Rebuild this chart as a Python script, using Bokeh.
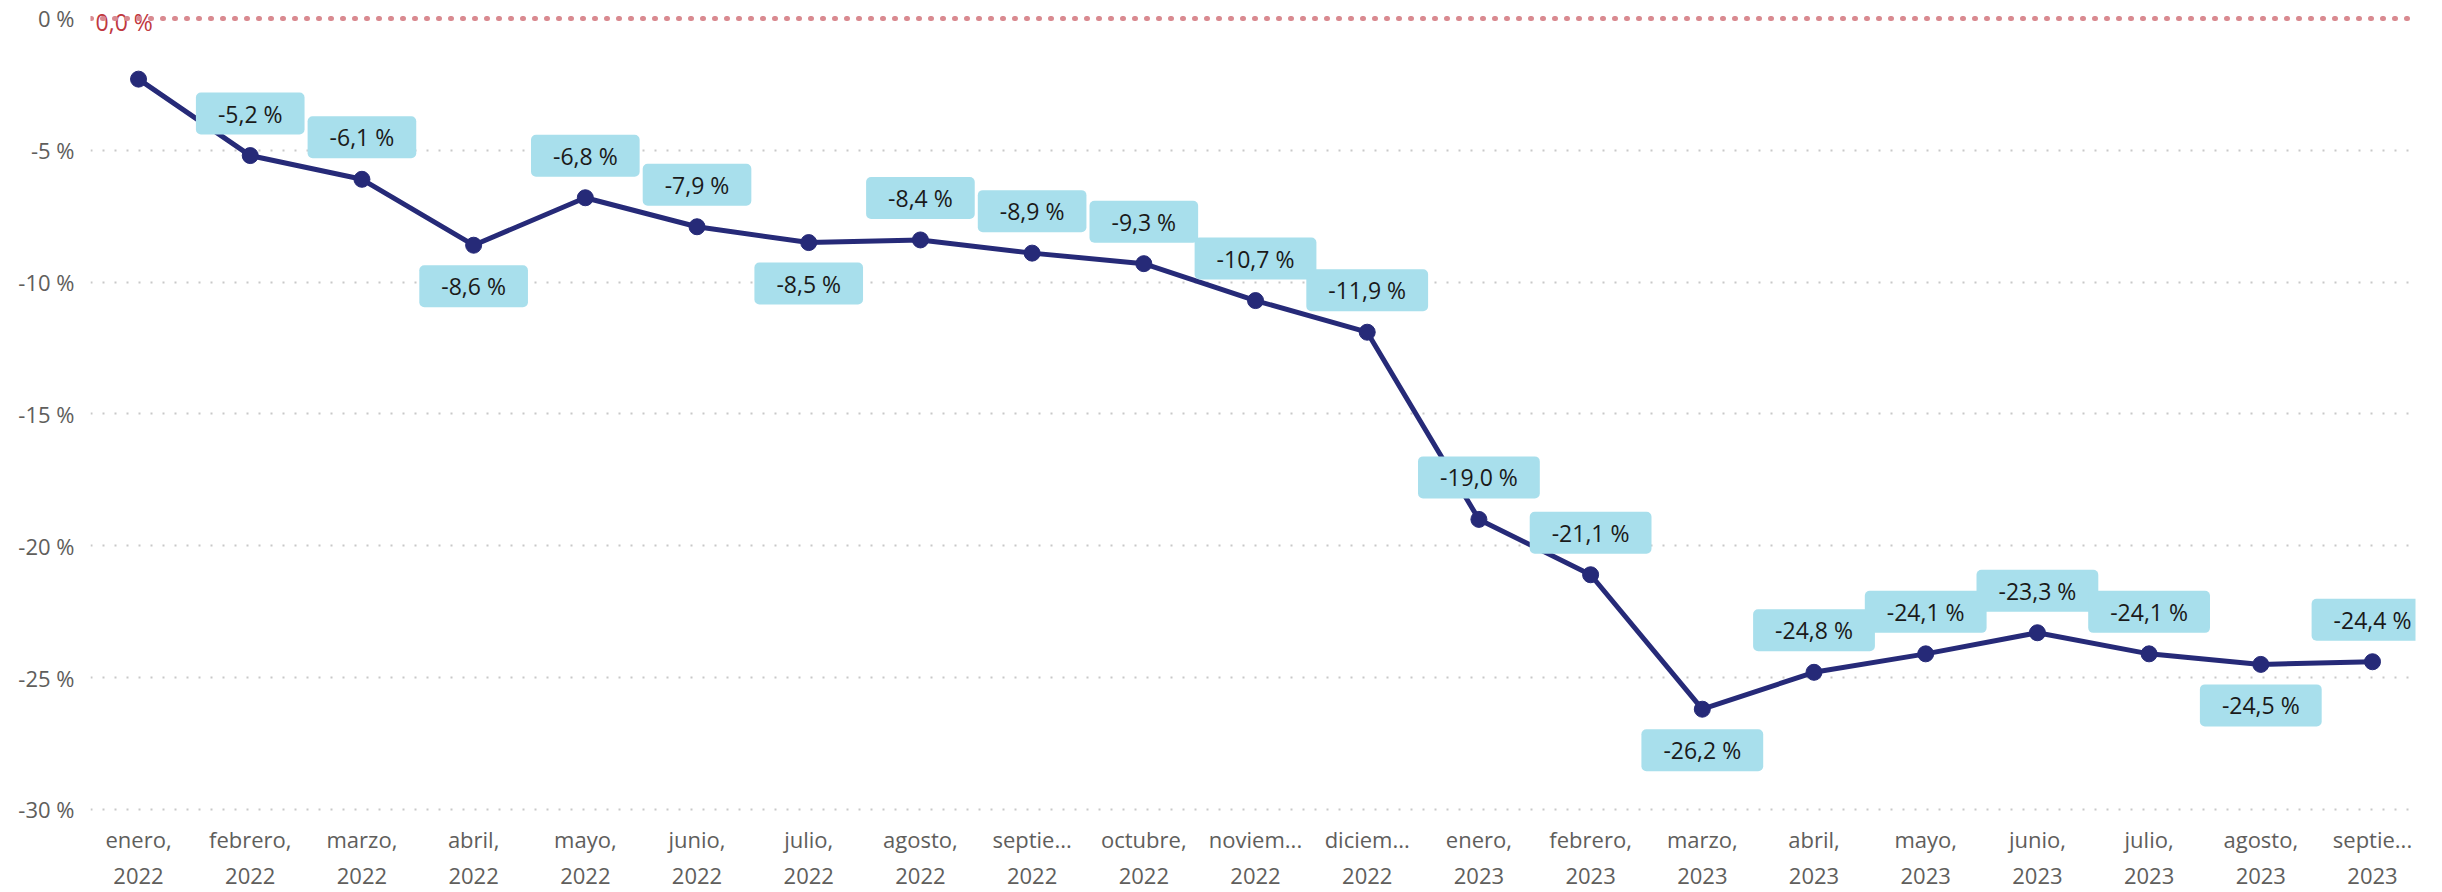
from bokeh.plotting import figure
from bokeh.models import ColumnDataSource, FixedTicker, Span
from bokeh.core.properties import value
from bokeh.embed import file_html
from bokeh.resources import INLINE

months = ["enero,\n2022", "febrero,\n2022", "marzo,\n2022", "abril,\n2022", "mayo,\n2022",
          "junio,\n2022", "julio,\n2022", "agosto,\n2022", "septie...\n2022", "octubre,\n2022",
          "noviem...\n2022", "diciem...\n2022", "enero,\n2023", "febrero,\n2023", "marzo,\n2023",
          "abril,\n2023", "mayo,\n2023", "junio,\n2023", "julio,\n2023", "agosto,\n2023",
          "septie...\n2023"]
values = [-2.3, -5.2, -6.1, -8.6, -6.8, -7.9, -8.5, -8.4, -8.9, -9.3, -10.7, -11.9,
          -19.0, -21.1, -26.2, -24.8, -24.1, -23.3, -24.1, -24.5, -24.4]
label_side = ["none", "above", "above", "below", "above", "above", "below", "above", "above",
              "above", "above", "above", "above", "above", "below", "above", "above", "above",
              "above", "below", "above"]
y_ticks = [0, -5, -10, -15, -20, -25, -30]
ref_value = 0.0

FONT = "Open Sans"
W, H = 2426, 892
x0, x1 = -0.43, 20.385
p = figure(width=W, height=H, output_backend="svg", toolbar_location=None,
           x_range=(x0, x1), y_range=(-30.08, 0.417))
p.min_border_left = 90
p.min_border_right = 11
p.min_border_top = 7
p.min_border_bottom = 80
p.outline_line_color = None
p.background_fill_color = "white"
p.border_fill_color = "white"

p.xgrid.visible = False
p.ygrid.grid_line_color = "#c8c8c8"
p.ygrid.grid_line_width = 2
p.ygrid.grid_line_dash = "2 10"

p.yaxis.ticker = FixedTicker(ticks=y_ticks)
p.yaxis.major_label_overrides = {t: f"{t} %" for t in y_ticks}
p.yaxis.axis_line_color = None
p.yaxis.major_tick_line_color = None
p.yaxis.minor_tick_line_color = None
p.yaxis.major_tick_in = 0
p.yaxis.major_tick_out = 0
p.yaxis.major_label_standoff = 16
p.yaxis.major_label_text_font = FONT
p.yaxis.major_label_text_font_size = "22px"
p.yaxis.major_label_text_color = "#605e5c"

xs = list(range(len(values)))
p.xaxis.ticker = FixedTicker(ticks=xs)
p.xaxis.major_label_overrides = {i: m for i, m in enumerate(months)}
p.xaxis.axis_line_color = None
p.xaxis.major_tick_line_color = None
p.xaxis.minor_tick_line_color = None
p.xaxis.major_tick_in = 0
p.xaxis.major_tick_out = 0
p.xaxis.major_label_standoff = 12
p.xaxis.major_label_text_font = FONT
p.xaxis.major_label_text_font_size = "22px"
p.xaxis.major_label_text_line_height = 1.2
p.xaxis.major_label_text_color = "#605e5c"

zero = Span(location=ref_value, dimension="width", line_color="#d98a90", line_width=5,
            line_dash="1 11", line_cap="round")
p.add_layout(zero)

NAVY = "#262a78"
p.line(xs, values, line_color=NAVY, line_width=5)
p.scatter(xs, values, size=16, fill_color=NAVY, line_color=NAVY)

lx, ly, lt, lo = [], [], [], []
for i, (v, s) in enumerate(zip(values, label_side)):
    if s == "none":
        continue
    lx.append(i)
    ly.append(v)
    lt.append(f"{v:.1f}".replace(".", ",") + " %")
    lo.append(-42 if s == "above" else 41)
src = ColumnDataSource(dict(x=lx, y=ly, t=lt, off=lo))
p.text(x="x", y="y", text="t", source=src, y_offset="off", text_align="center",
       text_baseline="middle", text_font=value(FONT), text_font_size="23px",
       text_color="#1a1a1a", background_fill_color="#a8dfec", border_radius=5,
       padding=(22, 22, 5, 5))

p.text(x=[x0 + 0.045], y=[ref_value], text=[f"{ref_value:.1f}".replace(".", ",") + " %"],
       text_align="left", text_baseline="middle", y_offset=4, text_font=value(FONT),
       text_font_size="23px", text_color="#c0393f")

open("out.html", "w").write(file_html(p, INLINE))
